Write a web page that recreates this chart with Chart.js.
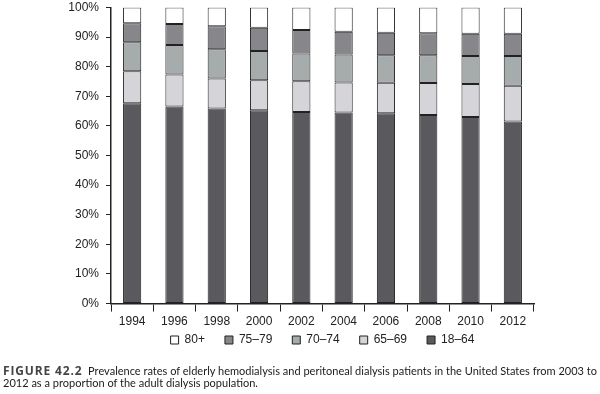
<!DOCTYPE html>
<html>
<head>
<meta charset="utf-8">
<script src="https://cdn.jsdelivr.net/npm/chart.js@4"></script>
<style>
    body { margin: 0; background: #fff; }
    #wrap { position: relative; width: 600px; height: 394px; overflow: hidden; }
    #chartBox { position: absolute; left: 0; top: 0; width: 600px; height: 374px; }
    #caption {
        position: absolute; left: 3px; top: 365px;
        font-family: Lato, "Open Sans", sans-serif;
        font-size: 11.5px; line-height: 12px; color: #1a1a1a; white-space: nowrap;
        transform-origin: 0 0;
    }
    #caption b { color: #444; font-size: 12.5px; letter-spacing: 0.9px; font-family: "Open Sans", sans-serif; }
</style>
</head>
<body>
<div id="wrap">
    <div id="chartBox"><canvas id="stackChart"></canvas></div>
    <div id="caption"><span id="capLine1"><b>FIGURE 42.2</b>&nbsp;&nbsp;Prevalence rates of elderly hemodialysis and peritoneal dialysis patients in the United States from 2003 to</span><br>2012 as a proportion of the adult dialysis population.</div>
</div>
<script>
const years = ['1994', '1996', '1998', '2000', '2002', '2004', '2006', '2008', '2010', '2012'];

// share of the dialysis population, percent, bottom to top
const age18to64 = [67.7, 66.6, 65.9, 65.3, 64.7, 64.5, 64.3, 63.7, 63.0, 61.5];
const age65to69 = [10.8, 10.8, 10.1, 10.1, 10.4, 10.2, 10.3, 10.8, 11.2, 12.1];
const age70to74 = [9.8, 9.9, 9.9, 9.9, 9.4, 9.4, 9.3, 9.4, 9.4, 10.0];
const age75to79 = [6.4, 7.1, 7.8, 7.9, 7.9, 7.7, 7.6, 7.4, 7.5, 7.5];
const age80plus = [5.3, 5.6, 6.3, 6.8, 7.6, 8.2, 8.5, 8.7, 8.9, 8.9];

const yTicks = [0, 10, 20, 30, 40, 50, 60, 70, 80, 90, 100];

const tickFont = { family: '"Liberation Sans", Arial, sans-serif', size: 12 };
const inkColor = '#222';

const makeSet = (label, data, color) => ({
    label,
    data,
    backgroundColor: color,
    borderColor: inkColor,
    borderWidth: 1,
    borderSkipped: false,
    barPercentage: 0.43,
    categoryPercentage: 1
});

// the legend sits tighter under the year labels than Chart.js spaces it
const legendNudge = {
    id: 'legendNudge',
    afterLayout(chart) {
        chart.legend.top -= 18;
        chart.legend.bottom -= 18;
    }
};

new Chart(document.getElementById('stackChart'), {
    type: 'bar',
    data: {
        labels: years,
        datasets: [
            makeSet('18–64', age18to64, '#5a5a5e'),
            makeSet('65–69', age65to69, '#d5d5d9'),
            makeSet('70–74', age70to74, '#a6abab'),
            makeSet('75–79', age75to79, '#87878b'),
            makeSet('80+', age80plus, '#ffffff')
        ]
    },
    plugins: [legendNudge],
    options: {
        responsive: true,
        maintainAspectRatio: false,
        animation: false,
        layout: { padding: { left: 0, right: 66, top: 0, bottom: 0 } },
        plugins: {
            tooltip: { enabled: false },
            legend: {
                position: 'bottom',
                fullSize: false,
                reverse: true,
                labels: {
                    boxWidth: 8,
                    boxHeight: 8,
                    padding: 20,
                    color: inkColor,
                    font: tickFont
                }
            }
        },
        scales: {
            x: {
                stacked: true,
                grid: {
                    offset: true,
                    drawOnChartArea: false,
                    tickLength: 8,
                    color: inkColor
                },
                border: { display: true, color: inkColor, width: 1.5 },
                ticks: { color: inkColor, font: tickFont, padding: 3 }
            },
            y: {
                stacked: true,
                min: 0,
                max: 100,
                afterFit: (scale) => {
                    scale.width = 111;
                    scale.paddingTop = 7.5;
                },
                afterBuildTicks: (scale) => { scale.ticks = yTicks.map((v) => ({ value: v })); },
                grid: {
                    drawOnChartArea: false,
                    tickLength: 5,
                    color: inkColor
                },
                border: { display: true, color: inkColor, width: 1.5 },
                ticks: {
                    color: inkColor,
                    font: tickFont,
                    padding: 7,
                    callback: (value) => `${value}%`
                }
            }
        }
    }
});

// squeeze the caption so its first line fits the figure width
const caption = document.getElementById('caption');
const lineWidth = document.getElementById('capLine1').getBoundingClientRect().width;
caption.style.transform = `scaleX(${(594 / lineWidth).toFixed(4)})`;
</script>
</body>
</html>
